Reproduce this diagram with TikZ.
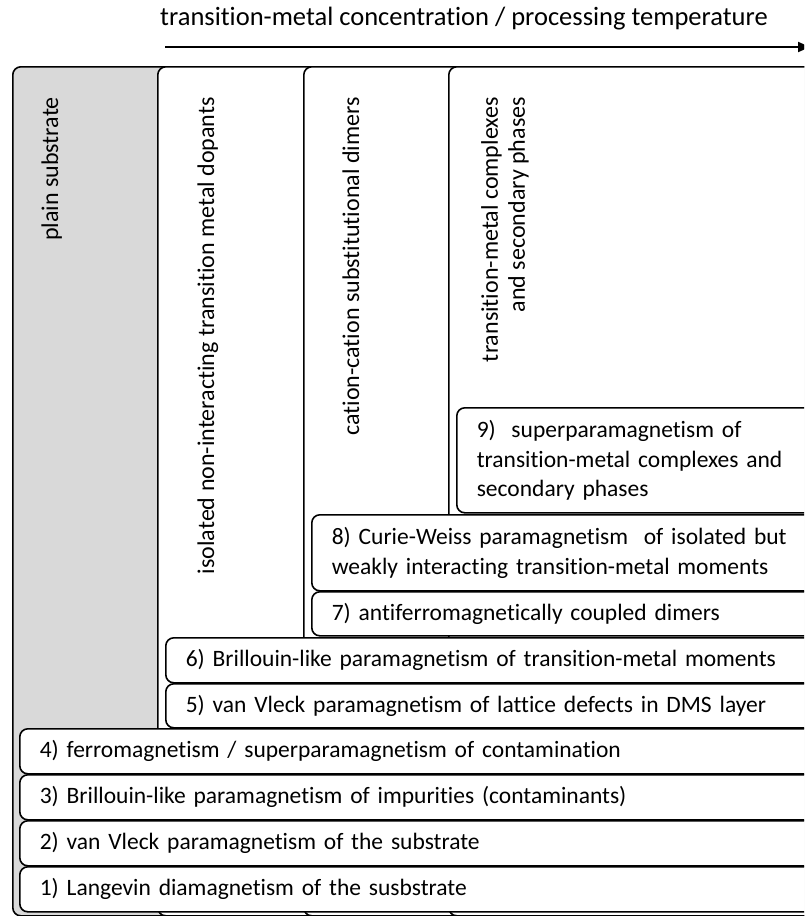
\documentclass[tikz,border=0pt]{standalone}
\usepackage{fontspec}
\setmainfont{Carlito}[Ligatures={NoCommon}]
\usetikzlibrary{arrows.meta}
\definecolor{subgray}{HTML}{D9D9D9}
\begin{document}
\begin{tikzpicture}[x=1pt,y=-1pt,
  frame/.style={draw=black, line width=1.6pt, rounded corners=8pt},
  colbox/.style={frame, fill=white, anchor=north west, inner sep=0pt, minimum height=849pt},
  rowbox/.style={frame, fill=white, anchor=north west, inner xsep=20pt, inner ysep=0pt,
    align=left, font=\fontsize{23.5}{29.3}\selectfont},
  vlabel/.style={rotate=90, inner sep=0pt, font=\fontsize{24}{27}\selectfont},
  axisarrow/.style={line width=2pt, -{Triangle[length=12pt,width=10pt]}},
]
\useasboundingbox (0,0) rectangle (804,916);
\clip (0,0) rectangle (804,916);

% axis label and arrow
\node[font=\fontsize{26.5}{31}\selectfont] (title) at (464,19) {transition-metal concentration / processing temperature};
\coordinate (arrS) at (165,47);
\coordinate (arrE) at (810,47);
\draw[axisarrow] (arrS) -- (arrE);

% columns (overlapping tabs, open to the right)
\node[colbox, fill=subgray, minimum width=828pt] (c1) at (12,66) {};
\node[colbox, minimum width=683pt] (c2) at (157,66) {};
\node[colbox, minimum width=538pt] (c3) at (303,66) {};
\node[colbox, minimum width=392pt] (c4) at (448,66) {};

% column headings
\node[vlabel, anchor=base east] (t1) at (58,97) {plain substrate};
\node[vlabel, anchor=base east] (t2) at (214,97) {isolated non-interacting transition metal dopants};
\node[vlabel, anchor=base east] (t3) at (359,97) {cation-cation substitutional dimers};
\node[vlabel, anchor=north east, align=right] (t4) at (481,97) {transition-metal complexes\\and secondary phases};

% contributions to the magnetic signal
\node[rowbox, text width=344pt, minimum height=105pt] (r9) at (456,407)
  {9)~ superparamagnetism of\\transition-metal complexes and\\secondary phases};
\node[rowbox, text width=489pt, minimum height=76pt] (r8) at (311,514)
  {8) Curie-Weiss paramagnetism~ of isolated but\\weakly interacting transition-metal moments};
\node[rowbox, text width=489pt, minimum height=44pt] (r7) at (311,591)
  {7) antiferromagnetically coupled dimers};
\node[rowbox, text width=636pt, minimum height=45pt] (r6) at (165,637)
  {6) Brillouin-like paramagnetism of transition-metal moments};
\node[rowbox, text width=636pt, minimum height=44pt] (r5) at (165,683)
  {5) van Vleck paramagnetism of lattice defects in DMS layer};
\node[rowbox, text width=781pt, minimum height=45pt] (r4) at (19,728)
  {4) ferromagnetism / superparamagnetism of contamination};
\node[rowbox, text width=781pt, minimum height=45pt] (r3) at (19,774)
  {3) Brillouin-like paramagnetism of impurities (contaminants)};
\node[rowbox, text width=781pt, minimum height=45pt] (r2) at (19,820)
  {2) van Vleck paramagnetism of the substrate};
\node[rowbox, text width=781pt, minimum height=45pt] (r1) at (19,866)
  {1) Langevin diamagnetism of the susbstrate};
\end{tikzpicture}
\end{document}
